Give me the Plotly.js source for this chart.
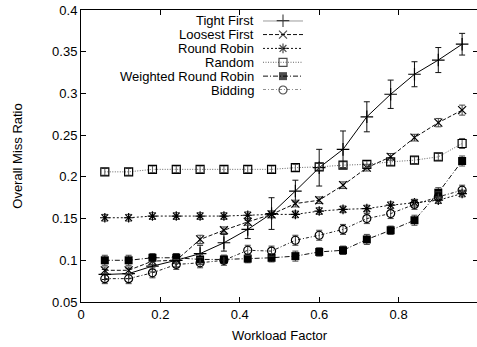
<!DOCTYPE html>
<html>
<head>
<meta charset="utf-8">
<script src="https://cdn.plot.ly/plotly-3.0.1.min.js"></script>
<style>
html,body{margin:0;padding:0;overflow:hidden;background:#fff;}
#chart{width:480px;height:347px;}
</style>
</head>
<body>
<div id="chart"></div>
<script>
// ---- data ----
var workload = [0.06,0.12,0.18,0.24,0.30,0.36,0.42,0.48,0.54,0.60,0.66,0.72,0.78,0.84,0.90,0.96];

var tightFirst    = [0.083,0.084,0.093,0.100,0.108,0.121,0.137,0.156,0.183,0.211,0.233,0.272,0.299,0.323,0.340,0.359];
var tightFirstErr = [0.006,0.006,0.007,0.008,0.010,0.010,0.011,0.019,0.013,0.022,0.022,0.018,0.017,0.015,0.015,0.013];

var loosestFirst    = [0.088,0.088,0.099,0.100,0.125,0.136,0.146,0.155,0.168,0.172,0.190,0.211,0.224,0.247,0.265,0.280];
var loosestFirstErr = [0.004,0.004,0.004,0.004,0.005,0.004,0.004,0.004,0.004,0.004,0.004,0.004,0.004,0.004,0.005,0.006];

var roundRobin    = [0.151,0.151,0.153,0.153,0.153,0.153,0.154,0.155,0.155,0.159,0.161,0.162,0.166,0.169,0.172,0.180];
var roundRobinErr = [0.004,0.004,0.004,0.004,0.004,0.004,0.004,0.004,0.004,0.004,0.004,0.004,0.004,0.004,0.004,0.004];

var randomSel    = [0.206,0.206,0.209,0.209,0.209,0.209,0.209,0.209,0.211,0.212,0.214,0.215,0.218,0.220,0.224,0.240];
var randomSelErr = [0.004,0.004,0.004,0.004,0.004,0.004,0.004,0.004,0.004,0.004,0.004,0.004,0.004,0.004,0.004,0.006];

var weightedRR    = [0.100,0.100,0.103,0.103,0.101,0.101,0.102,0.103,0.105,0.110,0.112,0.125,0.136,0.148,0.181,0.219];
var weightedRRErr = [0.006,0.006,0.005,0.005,0.006,0.005,0.005,0.005,0.006,0.005,0.005,0.006,0.005,0.006,0.006,0.006];

var bidding    = [0.078,0.078,0.085,0.095,0.097,0.100,0.112,0.111,0.124,0.130,0.137,0.150,0.156,0.167,0.176,0.184];
var biddingErr = [0.006,0.006,0.006,0.006,0.006,0.006,0.006,0.006,0.006,0.006,0.006,0.006,0.006,0.006,0.006,0.006];

var seriesNames = ["Tight First","Loosest First","Round Robin","Random","Weighted Round Robin","Bidding"];
var xTickVals = [0,0.2,0.4,0.6,0.8];
var xTickText = ["0","0.2","0.4","0.6","0.8"];
var yTickVals = [0.05,0.1,0.15,0.2,0.25,0.3,0.35,0.4];
var yTickText = ["0.05","0.1","0.15","0.2","0.25","0.3","0.35","0.4"];

// ---- styles ----
var FONT = "Liberation Sans, Arial, Helvetica, sans-serif";
var styles = [
  {y: tightFirst,   e: tightFirstErr,   dash: "solid",            lc: "#000", sym: "cross-thin",    ms: 9, mlw: 1.2, ec: "#111"},
  {y: loosestFirst, e: loosestFirstErr, dash: "4px,2px",          lc: "#111", sym: "x-thin",        ms: 8, mlw: 1.2, ec: "#444"},
  {y: roundRobin,   e: roundRobinErr,   dash: "2px,2px",          lc: "#111", sym: "asterisk-open", ms: 8, mlw: 1.2, ec: "#444"},
  {y: randomSel,    e: randomSelErr,    dash: "1px,1.5px",        lc: "#666", sym: "square-open",   ms: 8, mlw: 1.2, ec: "#555"},
  {y: weightedRR,   e: weightedRRErr,   dash: "5px,2px,1px,2px",  lc: "#111", sym: "square",        ms: 8, mlw: 0,   ec: "#444"},
  {y: bidding,      e: biddingErr,      dash: "3px,2px,1px,2px",  lc: "#222", sym: "circle-open",   ms: 8, mlw: 1.2, ec: "#444"}
];

var traces = [];
styles.forEach(function(s, i){
  traces.push({
    type: "scatter", mode: "lines+markers", x: workload, y: s.y, name: seriesNames[i],
    showlegend: false, cliponaxis: false,
    line: {color: s.lc, width: 1, dash: s.dash},
    marker: {symbol: s.sym, size: s.ms, color: "#000", line: {color: "#000", width: s.mlw}},
    error_y: {type: "data", array: s.e, visible: true, color: s.ec, thickness: 1, width: 3}
  });
});

// legend samples drawn on an auxiliary axis pair
var annotations = [];
styles.forEach(function(s, i){
  traces.push({
    type: "scatter", mode: "lines+markers", x: [0, 0.5, 1], y: [i, i, i], xaxis: "x2", yaxis: "y2",
    showlegend: false, hoverinfo: "skip", cliponaxis: false,
    line: {color: s.lc, width: 1, dash: s.dash},
    marker: {symbol: s.sym, size: [0, s.ms, 0], color: "#000",
             line: {color: "#000", width: [0, s.mlw, 0]}}
  });
  annotations.push({
    xref: "x2", yref: "y2", x: 0, y: i, xanchor: "right", yanchor: "middle",
    xshift: -7, showarrow: false, text: seriesNames[i],
    font: {family: FONT, size: 13, color: "#000"}
  });
});

var W = 480, H = 347, ML = 81, MR = 2, MT = 10, MB = 45;
var pw = W - ML - MR, ph = H - MT - MB;
function px2paperX(p){ return (p - ML) / pw; }
function px2paperY(p){ return 1 - (p - MT) / ph; }

var layout = {
  width: W, height: H,
  margin: {l: ML, r: MR, t: MT, b: MB, pad: 0},
  paper_bgcolor: "#fff", plot_bgcolor: "#fff",
  font: {family: FONT, size: 13, color: "#000"},
  showlegend: false,
  xaxis: {
    range: [0, 1], tickvals: xTickVals, ticktext: xTickText,
    ticks: "inside", ticklen: 5, tickwidth: 1, tickcolor: "#000",
    showline: true, linecolor: "#000", linewidth: 1, mirror: "ticks",
    showgrid: false, zeroline: false, automargin: false,
    tickfont: {family: FONT, size: 13, color: "#000"},
    title: {text: "Workload Factor", font: {family: FONT, size: 13, color: "#000"}, standoff: 10}
  },
  yaxis: {
    range: [0.05, 0.4], tickvals: yTickVals, ticktext: yTickText,
    ticks: "inside", ticklen: 5, tickwidth: 1, tickcolor: "#000",
    showline: true, linecolor: "#000", linewidth: 1, mirror: "ticks",
    showgrid: false, zeroline: false, automargin: false,
    tickfont: {family: FONT, size: 13, color: "#000"},
    title: {text: "Overall Miss Ratio", font: {family: FONT, size: 13, color: "#000"}, standoff: 26}
  },
  xaxis2: {
    domain: [px2paperX(263), px2paperX(303)], range: [0, 1], anchor: "y2",
    visible: false, fixedrange: true
  },
  yaxis2: {
    domain: [px2paperY(90), px2paperY(20.7)], range: [5, 0], anchor: "x2",
    visible: false, fixedrange: true
  },
  annotations: annotations
};

Plotly.newPlot("chart", traces, layout, {displayModeBar: false, staticPlot: true});
</script>
</body>
</html>
